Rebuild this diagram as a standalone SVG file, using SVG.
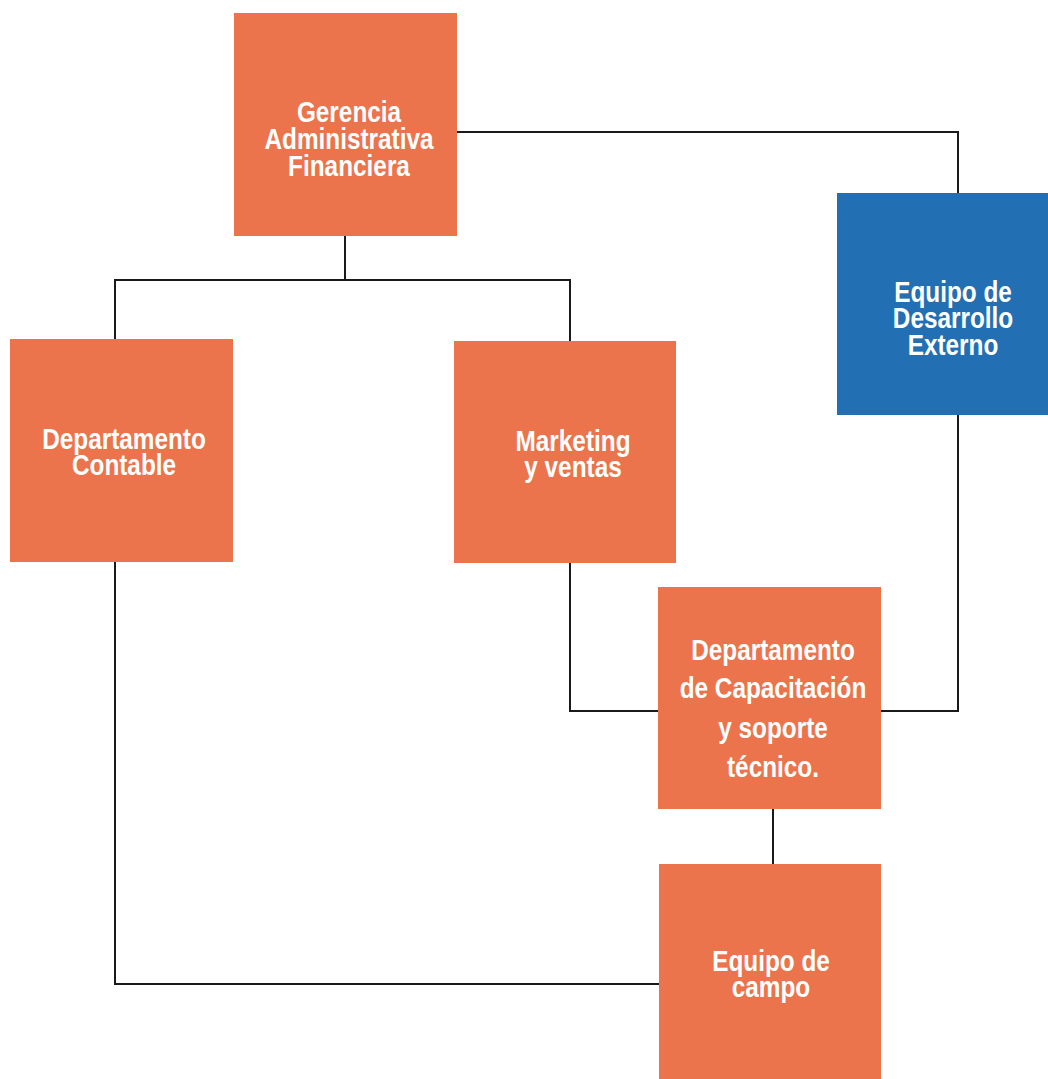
<svg xmlns="http://www.w3.org/2000/svg" width="1048" height="1079" viewBox="0 0 1048 1079">
<style>
.box{fill:#EB744C}
.blue{fill:#236FB4}
.lbl{font-family:"Liberation Sans Narrow","Liberation Sans",Arial,sans-serif;font-weight:bold;font-size:29px;fill:#ffffff;text-anchor:middle}
.conn{fill:none;stroke:#1a1a1a;stroke-width:2}
</style>
<rect width="1048" height="1079" fill="#ffffff"/>
<g id="connectors">
<path class="conn" d="M345,236 V280 M115,339 V280 H570 V341"/>
<path class="conn" d="M457,132 H958 V193"/>
<path class="conn" d="M570,563 V711 H658"/>
<path class="conn" d="M881,711 H958 V415"/>
<path class="conn" d="M773,809 V864"/>
<path class="conn" d="M115,562 V984 H659"/>
</g>
<g id="gerencia">
<rect class="box" x="234" y="13" width="223" height="223"/>
<g transform="translate(349,0) scale(0.84,1)"><text class="lbl" x="0" y="122">Gerencia</text><text class="lbl" x="0" y="149">Administrativa</text><text class="lbl" x="0" y="176">Financiera</text></g>
</g>
<g id="desarrollo">
<rect class="blue" x="837" y="193" width="223" height="222"/>
<g transform="translate(953,0) scale(0.84,1)"><text class="lbl" x="0" y="302">Equipo de</text><text class="lbl" x="0" y="328">Desarrollo</text><text class="lbl" x="0" y="355">Externo</text></g>
</g>
<g id="contable">
<rect class="box" x="10" y="339" width="223" height="223"/>
<g transform="translate(124,0) scale(0.84,1)"><text class="lbl" x="0" y="449">Departamento</text><text class="lbl" x="0" y="475">Contable</text></g>
</g>
<g id="marketing">
<rect class="box" x="454" y="341" width="222" height="222"/>
<g transform="translate(573,0) scale(0.84,1)"><text class="lbl" x="0" y="451">Marketing</text><text class="lbl" x="0" y="477">y ventas</text></g>
</g>
<g id="capacitacion">
<rect class="box" x="658" y="587" width="223" height="222"/>
<g transform="translate(773,0) scale(0.84,1)"><text class="lbl" x="0" y="660">Departamento</text><text class="lbl" x="0" y="698">de Capacitación</text><text class="lbl" x="0" y="738">y soporte</text><text class="lbl" x="0" y="777">técnico.</text></g>
</g>
<g id="campo">
<rect class="box" x="659" y="864" width="222" height="222"/>
<g transform="translate(771,0) scale(0.84,1)"><text class="lbl" x="0" y="971">Equipo de</text><text class="lbl" x="0" y="997">campo</text></g>
</g>
</svg>
